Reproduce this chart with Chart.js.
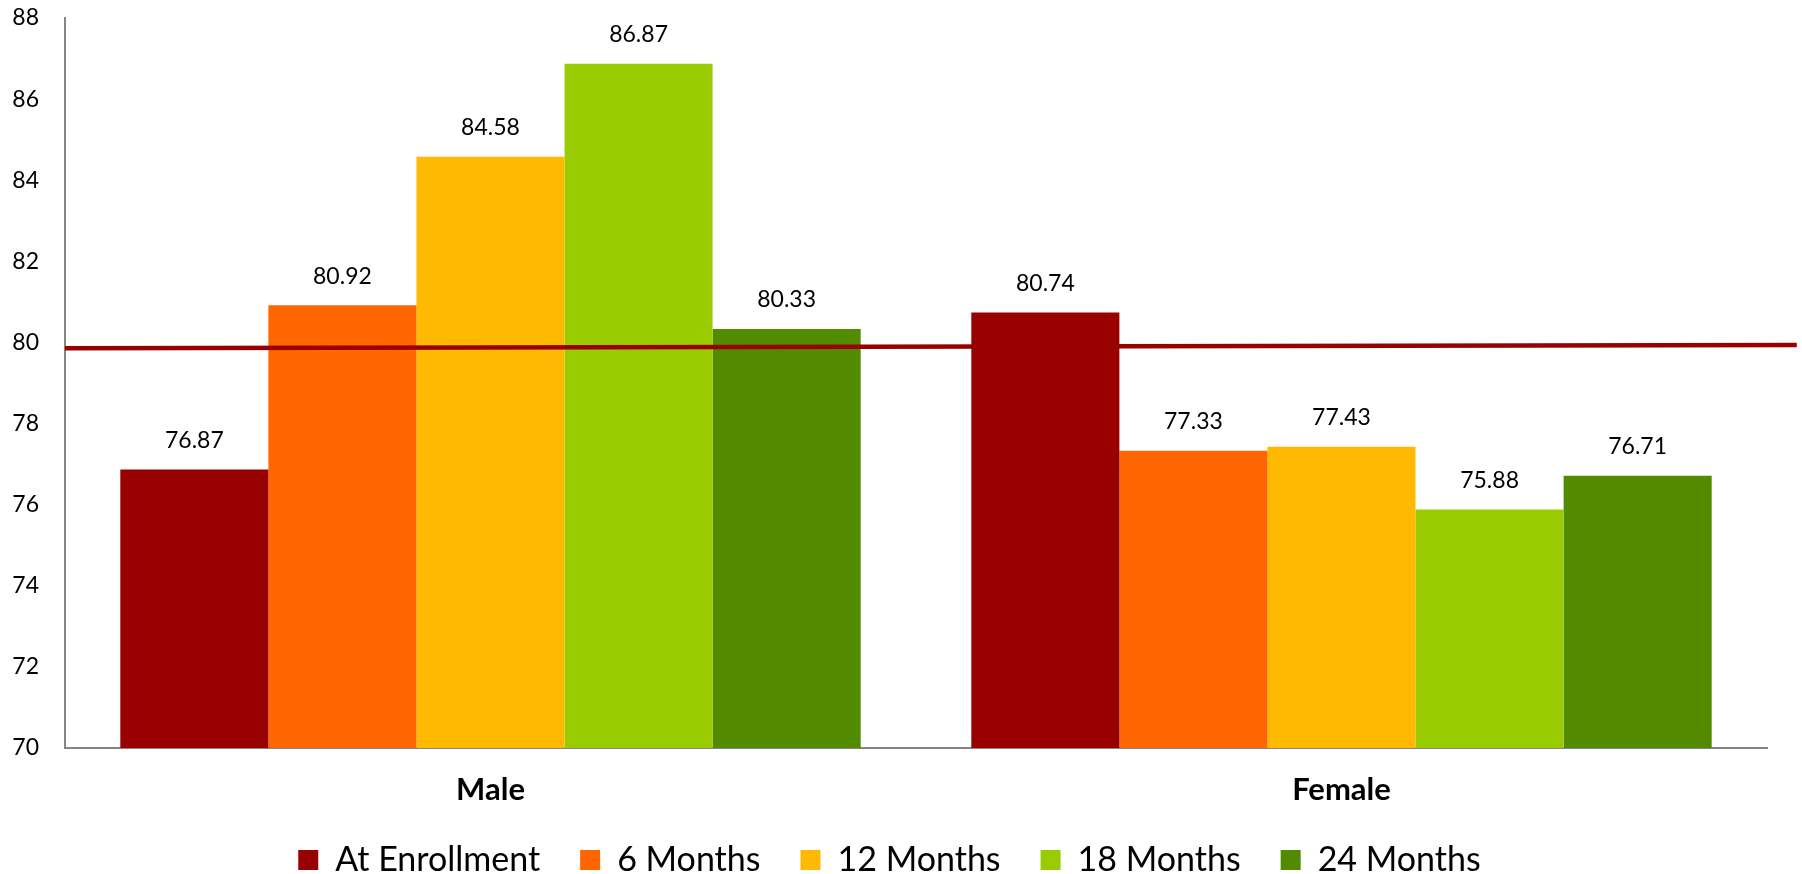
<!DOCTYPE html>
<html>
<head>
<meta charset="utf-8">
<script src="https://cdn.jsdelivr.net/npm/chart.js@4/dist/chart.umd.min.js"></script>
<style>
  html, body { margin: 0; padding: 0; background: #fff; }
  #wrap { width: 1802px; height: 874px; }
</style>
</head>
<body>
<div id="wrap"><canvas id="scoreChart"></canvas></div>
<script>
// groups and visits
const groups = ['Male', 'Female'];
const visits = ['At Enrollment', '6 Months', '12 Months', '18 Months', '24 Months'];

// mean score per visit, [Male, Female]
const atEnrollment = [76.87, 80.74];
const months6 = [80.92, 77.33];
const months12 = [84.58, 77.43];
const months18 = [86.87, 75.88];
const months24 = [80.33, 76.71];

// reference line across the plot: x in group units (0 = Male, 1 = Female)
const refLineX = [-0.5, 1.535];
const refLineY = [79.855, 79.94];

const yTicks = [70, 72, 74, 76, 78, 80, 82, 84, 86, 88];

const colors = ['#990000', '#FF6600', '#FFB900', '#99CC00', '#538B00'];
const seriesValues = [atEnrollment, months6, months12, months18, months24];

const FONT = 'Lato, "Liberation Sans", sans-serif';

// reference line, drawn over the bars through the chart's scales
const refLinePlugin = {
    id: 'refLine',
    afterDatasetsDraw(chart) {
        const xs = chart.scales.x, ys = chart.scales.y;
        const p0 = xs.getPixelForValue(0), p1 = xs.getPixelForValue(1);
        const ctx = chart.ctx;
        ctx.save();
        ctx.strokeStyle = '#990000';
        ctx.lineWidth = 4.5;
        ctx.beginPath();
        refLineX.forEach((v, i) => {
            const px = p0 + v * (p1 - p0);
            const py = ys.getPixelForValue(refLineY[i]);
            if (i === 0) ctx.moveTo(px, py); else ctx.lineTo(px, py);
        });
        ctx.stroke();
        ctx.restore();
    }
};

// value labels above each bar
const valueLabels = {
    id: 'valueLabels',
    afterDatasetsDraw(chart) {
        const ctx = chart.ctx;
        ctx.save();
        ctx.font = '23px ' + FONT;
        ctx.fillStyle = '#000';
        ctx.textAlign = 'center';
        ctx.textBaseline = 'middle';
        chart.data.datasets.forEach((ds, di) => {
            const meta = chart.getDatasetMeta(di);
            meta.data.forEach((bar, j) => {
                ctx.fillText(ds.data[j].toFixed(2), bar.x, bar.y - 29);
            });
        });
        ctx.restore();
    }
};

// keep the legend row close to the bottom edge
const legendHeight = {
    id: 'legendHeight',
    beforeInit(chart) {
        const fit = chart.legend.fit;
        chart.legend.fit = function () {
            fit.call(this);
            this.height = 69;
        };
    }
};

new Chart(document.getElementById('scoreChart'), {
    type: 'bar',
    data: {
        labels: groups,
        datasets: visits.map((name, i) => ({
            label: name,
            data: seriesValues[i],
            backgroundColor: colors[i],
            borderWidth: 0,
            categoryPercentage: 0.87,
            barPercentage: 1.0
        }))
    },
    options: {
        responsive: true,
        maintainAspectRatio: false,
        animation: false,
        layout: { padding: { left: 12, right: 35, top: 0, bottom: 2 } },
        scales: {
            x: {
                grid: { display: false, drawTicks: false },
                border: { color: '#868686', width: 2 },
                afterFit(axis) { axis.height = 55; },
                ticks: {
                    color: '#000',
                    padding: 23,
                    font: { family: FONT, size: 31, weight: 'bold' }
                }
            },
            y: {
                min: 70,
                max: 88,
                grid: { display: false, drawTicks: false },
                border: { color: '#868686', width: 2 },
                afterFit(axis) {
                    axis.width = 53;
                    axis.paddingTop = 18;
                },
                afterBuildTicks(axis) {
                    axis.ticks = yTicks.map(v => ({ value: v }));
                },
                ticks: {
                    color: '#000',
                    padding: 26,
                    font: { family: FONT, size: 23 }
                }
            }
        },
        plugins: {
            legend: {
                position: 'bottom',
                labels: {
                    color: '#000',
                    boxWidth: 20,
                    boxHeight: 20,
                    padding: 40,
                    font: { family: FONT, size: 34 }
                }
            },
            tooltip: { enabled: false }
        }
    },
    plugins: [refLinePlugin, valueLabels, legendHeight]
});
</script>
</body>
</html>
